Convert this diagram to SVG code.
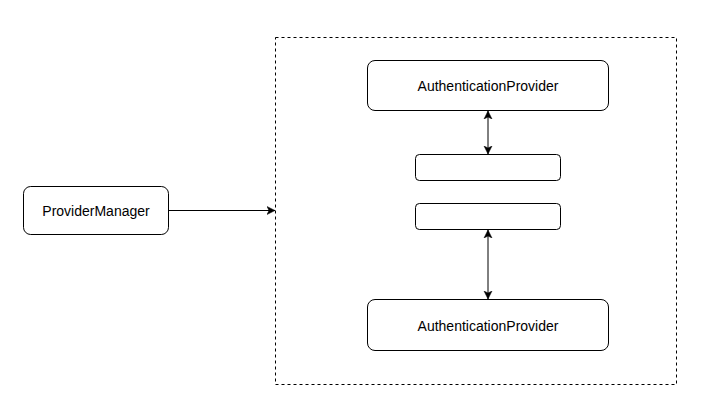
<svg xmlns="http://www.w3.org/2000/svg" width="718" height="411" viewBox="0 0 718 411">
<style>
.node{fill:#fff;stroke:#000;stroke-width:1}
.lbl{font-family:"Liberation Sans",Arial,sans-serif;font-size:14px;fill:#000;text-anchor:middle;dominant-baseline:central}
.edge{fill:none;stroke:#000;stroke-width:1}
</style>
<defs>
<marker id="ah" markerUnits="userSpaceOnUse" markerWidth="10" markerHeight="10" refX="8" refY="4" orient="auto-start-reverse" viewBox="0 0 10 8">
<path d="M0,0 L8,4 L0,8 L2,4 Z" fill="#000" stroke="#000" stroke-width="0.5"/>
</marker>
</defs>
<rect width="718" height="411" fill="#fff"/>
<g id="container">
<rect x="275.5" y="37.5" width="401" height="347" fill="none" stroke="#000" stroke-dasharray="3,3"/>
</g>
<g id="provider-top">
<rect class="node" x="367.5" y="60.5" width="241" height="50" rx="7.5"/>
<text class="lbl" x="488" y="86">AuthenticationProvider</text>
</g>
<g id="box1">
<rect class="node" x="415.5" y="154.5" width="145" height="26" rx="3.9"/>
</g>
<g id="box2">
<rect class="node" x="415.5" y="203.5" width="145" height="26" rx="3.9"/>
</g>
<g id="provider-bottom">
<rect class="node" x="367.5" y="299.5" width="241" height="51" rx="7.5"/>
<text class="lbl" x="488" y="326">AuthenticationProvider</text>
</g>
<g id="provider-manager">
<rect class="node" x="23.5" y="186.5" width="145" height="48" rx="7.2"/>
<text class="lbl" x="96" y="211">ProviderManager</text>
</g>
<g id="connectors">
<path class="edge" d="M168.5,210.5 L275,210.5" marker-end="url(#ah)"/>
<path class="edge" d="M488,111 L488,154" marker-start="url(#ah)" marker-end="url(#ah)"/>
<path class="edge" d="M488,230 L488,299" marker-start="url(#ah)" marker-end="url(#ah)"/>
</g>
</svg>
